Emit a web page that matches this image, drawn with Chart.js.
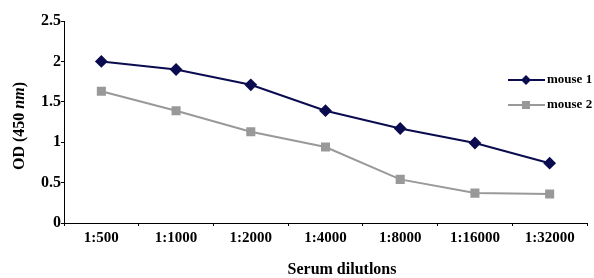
<!DOCTYPE html>
<html>
<head>
<meta charset="utf-8">
<script src="https://cdn.jsdelivr.net/npm/chart.js@4.4.0/dist/chart.umd.min.js"></script>
<style>
  html, body { margin: 0; padding: 0; background: #fff; }
  #wrap { width: 594px; height: 278px; }
</style>
</head>
<body>
<div id="wrap"><canvas id="odChart" width="594" height="278"></canvas></div>
<script>
var dilutions = ['1:500', '1:1000', '1:2000', '1:4000', '1:8000', '1:16000', '1:32000'];
var mouse1 = [2.0, 1.9, 1.71, 1.39, 1.17, 0.99, 0.74];
var mouse2 = [1.63, 1.39, 1.13, 0.94, 0.54, 0.37, 0.36];
var yTicks = [0, 0.5, 1, 1.5, 2, 2.5];

var serif = "'Liberation Serif', 'Times New Roman', serif";

// legend + y title drawn by hand (legend sits inside the plot, title has italic part)
var extras = {
    id: 'extras',
    afterDraw: function(chart) {
        var ctx = chart.ctx;
        ctx.save();
        chart.data.datasets.forEach(function(ds, i) {
            var y = 80 + i * 25;
            ctx.strokeStyle = ds.borderColor;
            ctx.lineWidth = 2;
            ctx.beginPath();
            ctx.moveTo(508, y);
            ctx.lineTo(545, y);
            ctx.stroke();
            ctx.fillStyle = ds.backgroundColor;
            ctx.beginPath();
            if (ds.pointStyle === 'rectRot') {
                ctx.moveTo(526, y - 5); ctx.lineTo(531, y); ctx.lineTo(526, y + 5); ctx.lineTo(521, y);
            } else {
                ctx.rect(522, y - 4, 8, 8);
            }
            ctx.closePath();
            ctx.fill();
            ctx.fillStyle = '#000';
            ctx.font = 'bold 13px ' + serif;
            ctx.textBaseline = 'middle';
            ctx.textAlign = 'left';
            ctx.fillText(ds.label, 547, y);
        });

        // y axis title
        ctx.translate(20, 126);
        ctx.rotate(-Math.PI / 2);
        ctx.textBaseline = 'middle';
        var parts = [['bold 16px ', 'OD (450 '], ['bold italic 16px ', 'nm'], ['bold 16px ', ')']];
        var total = 0;
        parts.forEach(function(p) { ctx.font = p[0] + serif; total += ctx.measureText(p[1]).width; });
        var x = -total / 2;
        ctx.fillStyle = '#000';
        ctx.textAlign = 'left';
        parts.forEach(function(p) {
            ctx.font = p[0] + serif;
            ctx.fillText(p[1], x, 0);
            x += ctx.measureText(p[1]).width;
        });
        ctx.restore();
    }
};

var config = {
    type: 'line',
    data: {
        labels: dilutions,
        datasets: [{
            label: 'mouse 1',
            data: mouse1,
            borderColor: '#0b0b4f',
            backgroundColor: '#0b0b4f',
            borderWidth: 2,
            pointStyle: 'rectRot',
            pointRadius: 5,
            pointHoverRadius: 5,
            tension: 0,
            fill: false
        }, {
            label: 'mouse 2',
            data: mouse2,
            borderColor: '#999999',
            backgroundColor: '#999999',
            borderWidth: 2,
            pointStyle: 'rect',
            pointRadius: 5,
            pointHoverRadius: 5,
            tension: 0,
            fill: false
        }]
    },
    options: {
        responsive: false,
        animation: false,
        layout: { padding: { top: 21, right: 3, left: 0, bottom: 0 } },
        plugins: {
            legend: { display: false },
            tooltip: { enabled: false }
        },
        scales: {
            x: {
                offset: true,
                afterFit: function(scale) { scale.height = 55; },
                grid: {
                    offset: true,
                    drawOnChartArea: false,
                    drawTicks: true,
                    tickLength: 3,
                    color: '#000'
                },
                border: { color: '#000', width: 1 },
                ticks: {
                    color: '#000',
                    padding: 3,
                    maxRotation: 0,
                    autoSkip: false,
                    font: { family: serif, size: 15, weight: 'bold' }
                }
            },
            y: {
                min: 0,
                max: 2.5,
                afterFit: function(scale) { scale.width = 64; },
                afterBuildTicks: function(scale) {
                    scale.ticks = yTicks.map(function(v) { return { value: v }; });
                },
                grid: {
                    drawOnChartArea: false,
                    drawTicks: true,
                    tickLength: 3,
                    color: '#000'
                },
                border: { color: '#000', width: 1 },
                ticks: {
                    color: '#000',
                    padding: 0,
                    font: { family: serif, size: 16, weight: 'bold' },
                    callback: function(v) { return String(v); }
                }
            }
        }
    },
    plugins: [extras, {
        id: 'xtitle',
        afterDraw: function(chart) {
            var ctx = chart.ctx;
            ctx.save();
            ctx.font = 'bold 16px ' + serif;
            ctx.fillStyle = '#000';
            ctx.textAlign = 'center';
            ctx.textBaseline = 'middle';
            ctx.fillText('Serum dilutlons', 342, 270);
            ctx.restore();
        }
    }]
};

var ctx = document.getElementById('odChart').getContext('2d');
var odChart = new Chart(ctx, config);
</script>
</body>
</html>
